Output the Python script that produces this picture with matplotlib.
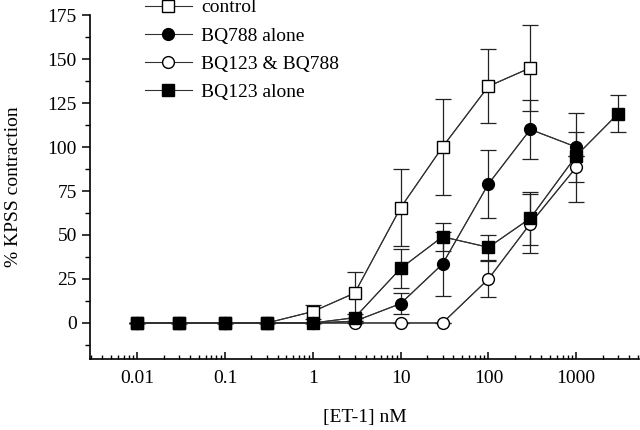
import numpy as np
import matplotlib
matplotlib.use("Agg")
import matplotlib.pyplot as plt
from matplotlib.ticker import LogLocator, MultipleLocator, FixedLocator, FixedFormatter

plt.rcParams['font.family'] = ['Liberation Serif', 'DejaVu Serif']

# [ET-1] nM
conc = [0.01, 0.03, 0.1, 0.3, 1, 3, 10, 30, 100, 300, 1000, 3000]

# control
ctrl_x = conc[:10]
ctrl_y = [0, 0, 0, 0, 6.5, 17, 65.5, 100, 134.5, 145]
ctrl_e = [0, 0, 0, 0, 4, 12, 22, 27.5, 21, 24.5]

# BQ788 alone
bq788_x = conc[:11]
bq788_y = [0, 0, 0, 0, 0, 1, 11, 33.5, 79, 110, 100]
bq788_e = [0, 0, 0, 0, 0, 0, 6, 18, 19.5, 17, 19.6]

# BQ123 & BQ788
both_x = conc[:11]
both_y = [0, 0, 0, 0, 0, 0, 0, 0, 25, 56.5, 88.5]
both_e = [0, 0, 0, 0, 0, 0, 0, 0, 10, 17, 20]

# BQ123 alone
bq123_x = conc
bq123_y = [0, 0, 0, 0, 0, 3, 31, 49, 43, 59.5, 95, 119]
bq123_e = [0, 0, 0, 0, 0, 0, 11, 8, 7, 15, 0, 10.5]

series = [
    ("control", ctrl_x, ctrl_y, ctrl_e, 's', 'white'),
    ("BQ788 alone", bq788_x, bq788_y, bq788_e, 'o', 'black'),
    ("BQ123 & BQ788", both_x, both_y, both_e, 'o', 'white'),
    ("BQ123 alone", bq123_x, bq123_y, bq123_e, 's', 'black'),
]

fig = plt.figure(figsize=(6.4, 4.3), dpi=100)
ax = fig.add_axes([0.1406, 0.165, 0.858, 0.800])

for name, x, y, e, m, fc in series:
    ax.errorbar(x, y, yerr=e, fmt='-', color='#222222', lw=0.8,
                elinewidth=0.9, capsize=5.5, capthick=0.9, zorder=2)
    ax.plot(x, y, linestyle='-', color='#333333', lw=0.8, marker=m,
            markersize=8.5 if m == 'o' else 8, markerfacecolor=fc,
            markeredgecolor='black', markeredgewidth=1.0, label=name, zorder=3)

ax.set_xscale('log')
ax.set_xlim(0.0029, 5200)
ax.set_ylim(-20.5, 175)

ax.yaxis.set_major_locator(MultipleLocator(25))
ax.yaxis.set_minor_locator(MultipleLocator(12.5))
ax.xaxis.set_major_locator(FixedLocator([0.01, 0.1, 1, 10, 100, 1000]))
ax.xaxis.set_major_formatter(FixedFormatter(['0.01', '0.1', '1', '10', '100', '1000']))
ax.xaxis.set_minor_locator(LogLocator(base=10, subs=np.arange(2, 10), numticks=20))

for s in ['top', 'right']:
    ax.spines[s].set_visible(False)
for s in ['left', 'bottom']:
    ax.spines[s].set_linewidth(1.2)

ax.tick_params(axis='y', which='major', direction='out', length=6, width=1.1, labelsize=14)
ax.tick_params(axis='y', which='minor', direction='out', length=3.5, width=1.0)
ax.tick_params(axis='x', which='major', direction='in', length=5, width=1.1, labelsize=14, pad=8)
ax.tick_params(axis='x', which='minor', direction='in', length=3, width=1.0)

ax.set_ylabel('% KPSS contraction', fontsize=14, labelpad=18)
ax.set_xlabel('[ET-1] nM', fontsize=14, labelpad=16)

ax.legend(loc='upper left', bbox_to_anchor=(0.086, 1.07), frameon=False, fontsize=14,
          numpoints=1, handlelength=2.4, handletextpad=0.5, labelspacing=0.55,
          borderaxespad=0)

fig.savefig('out.png', dpi=100)
